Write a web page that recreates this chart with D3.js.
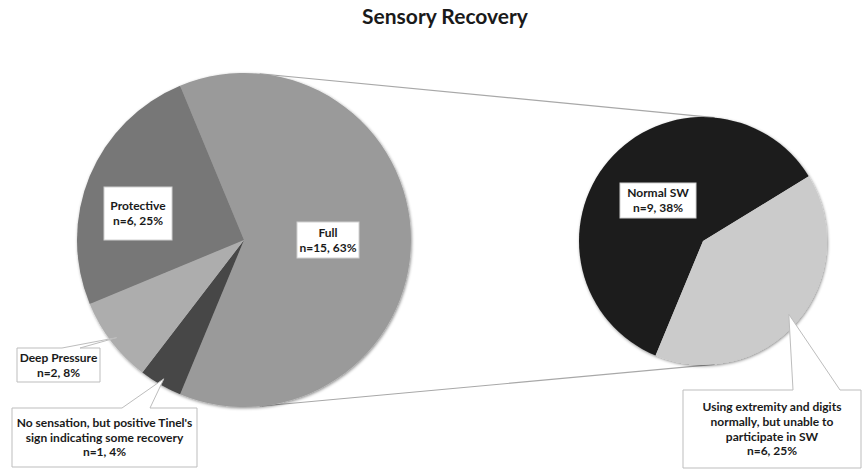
<!DOCTYPE html>
<html>
<head>
<meta charset="utf-8">
<script src="https://cdn.jsdelivr.net/npm/d3@7"></script>
<style>
  html, body { margin: 0; padding: 0; background: #fff; }
  svg { display: block; }
  text { font-family: Lato, "Open Sans", sans-serif; font-weight: 700; fill: #1a1a1a; }
</style>
</head>
<body>
<svg id="chart" width="862" height="476"></svg>
<script>
// Sensory recovery: main pie, with the "Full" slice broken out into a second pie
const mainCategories = ["Full", "No sensation, but positive Tinel's sign indicating some recovery", "Deep Pressure", "Protective"];
const mainCounts = [15, 1, 2, 6];
const mainPercents = [63, 4, 8, 25];

const subCategories = ["Normal SW", "Using extremity and digits normally, but unable to participate in SW"];
const subCounts = [9, 6];
const subPercents = [38, 25];

const title = "Sensory Recovery";

// Slice fills
const mainColors = ["#9a9a9a", "#474747", "#adadad", "#777777"];
const subColors = ["#1c1c1c", "#cbcbcb"];

// Label text lines (wrapped as they are drawn)
const mainLabelLines = [
  ["Full"],
  ["No sensation, but positive Tinel's", "sign indicating some recovery"],
  ["Deep Pressure"],
  ["Protective"]
];
const subLabelLines = [
  ["Normal SW"],
  ["Using extremity and digits", "normally, but unable to", "participate in SW"]
];

const svg = d3.select("#chart");
const W = 862, H = 476;

// Soft edge shadow for the pies
const defs = svg.append("defs");
const f = defs.append("filter").attr("id", "pieShadow")
  .attr("x", "-10%").attr("y", "-10%").attr("width", "120%").attr("height", "120%");
f.append("feDropShadow").attr("dx", 0.8).attr("dy", 1.2)
  .attr("stdDeviation", 1.6).attr("flood-color", "#000").attr("flood-opacity", 0.45);

// Geometry
const main = { cx: 244, cy: 240, r: 167 };
const sub = { cx: 703, cy: 241, r: 124 };

// Main pie: the split slice is centred on the right-hand side
const total = d3.sum(mainCounts);
const fullSpan = mainCounts[0] / total * 2 * Math.PI;
const mainStart = Math.PI / 2 - fullSpan / 2;
const mainPie = d3.pie().sort(null).value(d => d.v)
  .startAngle(mainStart).endAngle(mainStart + 2 * Math.PI);
const mainData = mainPie(mainCounts.map((v, i) => ({ v, i })));

// Second pie starts where the split slice ends
const subStart = mainStart + fullSpan - 2 * Math.PI;
const subPie = d3.pie().sort(null).value(d => d.v)
  .startAngle(subStart).endAngle(subStart + 2 * Math.PI);
const subData = subPie(subCounts.map((v, i) => ({ v, i })));

// Connector lines: outer tangents between the two circles
(function drawConnectors() {
  const d = sub.cx - main.cx;
  const a = Math.asin((main.r - sub.r) / d);
  [-1, 1].forEach(s => {
    const x1 = main.cx + main.r * Math.sin(a);
    const y1 = main.cy + s * main.r * Math.cos(a);
    const x2 = sub.cx + sub.r * Math.sin(a);
    const y2 = sub.cy + s * sub.r * Math.cos(a);
    svg.append("line")
      .attr("x1", x1).attr("y1", y1).attr("x2", x2).attr("y2", y2)
      .attr("stroke", "#a8a8a8").attr("stroke-width", 1.2);
  });
})();

const mainArc = d3.arc().innerRadius(0).outerRadius(main.r);
const subArc = d3.arc().innerRadius(0).outerRadius(sub.r);

svg.append("g").attr("transform", `translate(${main.cx},${main.cy})`)
  .attr("filter", "url(#pieShadow)")
  .selectAll("path").data(mainData).join("path")
  .attr("d", mainArc)
  .attr("fill", d => mainColors[d.data.i]);

svg.append("g").attr("transform", `translate(${sub.cx},${sub.cy})`)
  .attr("filter", "url(#pieShadow)")
  .selectAll("path").data(subData).join("path")
  .attr("d", subArc)
  .attr("fill", d => subColors[d.data.i]);

// Title
svg.append("text")
  .attr("x", 445).attr("y", 24)
  .attr("text-anchor", "middle")
  .style("font-size", "21px")
  .text(title);

// Label boxes: box rectangle, optional callout apex on the slice
const FS = 12, LH = 14.6;
const labelLayout = [
  // main pie
  { pie: "main", i: 0, x: 297, y: 222, w: 62, h: 36 },
  { pie: "main", i: 1, x: 12, y: 408, w: 185, h: 59, callout: [122, 150], apexR: 0.96 },
  { pie: "main", i: 2, x: 17, y: 348, w: 83, h: 34, callout: [62, 80], apexR: 0.96 },
  { pie: "main", i: 3, x: 104, y: 187, w: 68, h: 53 },
  // second pie
  { pie: "sub", i: 0, x: 620, y: 183, w: 76, h: 35 },
  { pie: "sub", i: 1, x: 683, y: 390, w: 178, h: 78, callout: [793, 840], apexR: 0.91 }
];

labelLayout.forEach(L => {
  const isMain = L.pie === "main";
  const arcs = isMain ? mainData : subData;
  const g0 = isMain ? main : sub;
  const lines = (isMain ? mainLabelLines : subLabelLines)[L.i].slice();
  const n = (isMain ? mainCounts : subCounts)[L.i];
  const p = (isMain ? mainPercents : subPercents)[L.i];
  lines.push(`n=${n}, ${p}%`);

  const g = svg.append("g");
  if (L.callout) {
    const a = arcs[L.i];
    const mid = (a.startAngle + a.endAngle) / 2;
    const ax = g0.cx + g0.r * L.apexR * Math.sin(mid);
    const ay = g0.cy - g0.r * L.apexR * Math.cos(mid);
    const [b1, b2] = L.callout;
    const path = `M${L.x},${L.y} L${b1},${L.y} L${ax},${ay} L${b2},${L.y} ` +
      `L${L.x + L.w},${L.y} L${L.x + L.w},${L.y + L.h} L${L.x},${L.y + L.h} Z`;
    g.append("path").attr("d", path)
      .attr("fill", "#fff").attr("stroke", "#bdbdbd").attr("stroke-width", 1);
  } else {
    g.append("rect").attr("x", L.x).attr("y", L.y).attr("width", L.w).attr("height", L.h)
      .attr("fill", "#fff").attr("stroke", "#d0d0d0").attr("stroke-width", 1);
  }
  const cx = L.x + L.w / 2;
  const cy = L.y + L.h / 2;
  const top = cy - (lines.length - 1) * LH / 2;
  lines.forEach((t, k) => {
    g.append("text")
      .attr("x", cx).attr("y", top + k * LH)
      .attr("dy", "0.35em")
      .attr("text-anchor", "middle")
      .style("font-size", FS + "px")
      .text(t);
  });
});
</script>
</body>
</html>
